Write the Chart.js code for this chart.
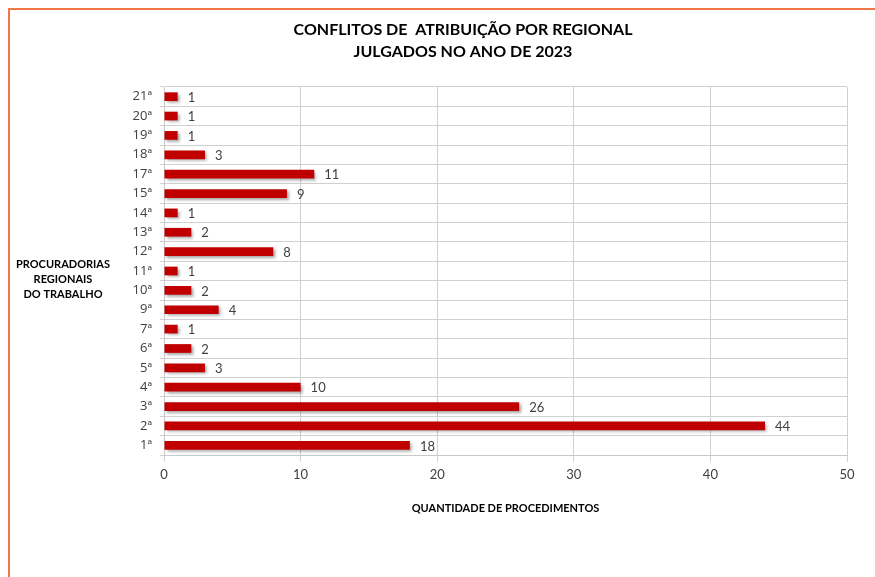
<!DOCTYPE html>
<html>
<head>
<meta charset="utf-8">
<script src="https://cdn.jsdelivr.net/npm/chart.js@4"></script>
<style>
  html, body { margin: 0; padding: 0; background: #fff; }
  #wrap { position: relative; width: 875px; height: 577px; overflow: hidden; }
  #frame { position: absolute; left: 8px; top: 8px; width: 900px; height: 600px;
           border-left: 2px solid #f07848; border-top: 2px solid #f07848; }
  #grafico { position: absolute; left: 0; top: 0; }
</style>
</head>
<body>
<div id="wrap">
  <div id="frame"></div>
  <canvas id="grafico" width="875" height="577"></canvas>
</div>
<script>
const regionais = ['1ª', '2ª', '3ª', '4ª', '5ª', '6ª', '7ª', '9ª', '10ª', '11ª',
                   '12ª', '13ª', '14ª', '15ª', '17ª', '18ª', '19ª', '20ª', '21ª'];
const conflitos = [18, 44, 26, 10, 3, 2, 1, 4, 2, 1, 8, 2, 1, 9, 11, 3, 1, 1, 1];
const tituloLinhas = ['CONFLITOS DE  ATRIBUIÇÃO POR REGIONAL', 'JULGADOS NO ANO DE 2023'];
const tituloEixoY = ['PROCURADORIAS', 'REGIONAIS', 'DO TRABALHO'];
const tituloEixoX = 'QUANTIDADE DE PROCEDIMENTOS';

const fonte = 'Lato, "Open Sans", sans-serif';
const fonteTicks = '"Open Sans", Lato, sans-serif';

// sombra das barras
const sombra = {
  id: 'sombra',
  beforeDatasetsDraw(chart) {
    const c = chart.ctx;
    c.save();
    c.shadowColor = 'rgba(0,0,0,0.35)';
    c.shadowBlur = 3;
    c.shadowOffsetX = 2;
    c.shadowOffsetY = 2;
  },
  afterDatasetsDraw(chart) {
    chart.ctx.restore();
  }
};

// valores ao lado das barras + textos fixos
const textos = {
  id: 'textos',
  afterDraw(chart) {
    const c = chart.ctx;
    c.save();
    c.fillStyle = '#404040';
    c.font = '13px ' + fonte;
    c.textAlign = 'left';
    c.textBaseline = 'middle';
    chart.getDatasetMeta(0).data.forEach((bar, i) => {
      c.fillText(String(conflitos[i]), bar.x + 10, bar.y + 1);
    });

    c.fillStyle = '#000';
    c.textAlign = 'center';
    c.font = 'bold 16px ' + fonte;
    c.fillText(tituloLinhas[0], 463, 30);
    c.fillText(tituloLinhas[1], 463, 52);

    c.font = 'bold 11px ' + fonte;
    tituloEixoY.forEach((t, i) => c.fillText(t, 63, 264 + i * 15));
    c.restore();
  }
};

new Chart(document.getElementById('grafico'), {
  type: 'bar',
  data: {
    labels: regionais,
    datasets: [{
      data: conflitos,
      backgroundColor: '#c00000',
      borderWidth: 0,
      barPercentage: 0.45,
      categoryPercentage: 1
    }]
  },
  options: {
    indexAxis: 'y',
    responsive: false,
    animation: false,
    layout: { padding: { left: 0, right: 28, top: 87, bottom: 0 } },
    plugins: { legend: { display: false }, tooltip: { enabled: false } },
    scales: {
      y: {
        reverse: true,
        afterFit(s) { s.width = 164; },
        grid: { color: '#d0d0d0', tickLength: 4, offset: true },
        border: { color: '#c8c8c8' },
        ticks: { color: '#404040', padding: 8, font: { family: fonteTicks, size: 13 } }
      },
      x: {
        min: 0,
        max: 50,
        afterFit(s) { s.height = 122; },
        grid: { color: '#d0d0d0', tickLength: 7 },
        border: { color: '#c8c8c8' },
        ticks: { stepSize: 10, color: '#404040', padding: 5, font: { family: fonte, size: 13 } },
        title: {
          display: true,
          text: tituloEixoX,
          color: '#000',
          font: { family: fonte, size: 11, weight: 'bold' },
          padding: { top: 0, bottom: 62 }
        }
      }
    }
  },
  plugins: [sombra, textos]
});
</script>
</body>
</html>
